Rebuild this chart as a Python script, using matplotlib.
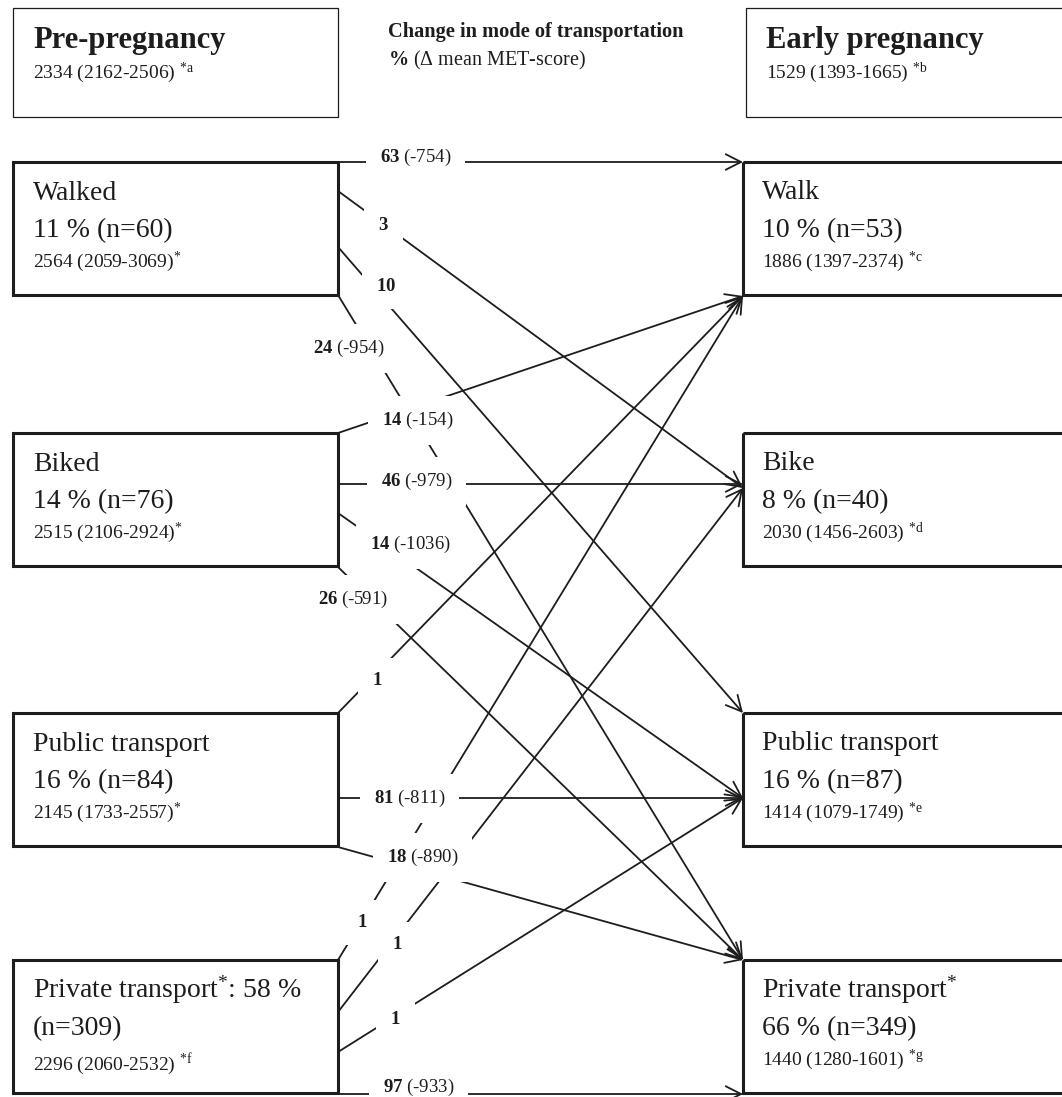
import matplotlib
matplotlib.use('Agg')
import matplotlib.pyplot as plt
from matplotlib.patches import Rectangle

plt.rcParams['font.family'] = 'Liberation Serif'
plt.rcParams['mathtext.fontset'] = 'custom'
plt.rcParams['mathtext.rm'] = 'Liberation Serif'
plt.rcParams['mathtext.it'] = 'Liberation Serif:italic'
plt.rcParams['mathtext.bf'] = 'Liberation Serif:bold'

INK = '#1e1c1d'

# ------------------------------------------------------------
# Data
# ------------------------------------------------------------
pre_title = 'Pre-pregnancy'
pre_total = '2334 (2162-2506)'
pre_total_sup = '*a'
early_title = 'Early pregnancy'
early_total = '1529 (1393-1665)'
early_total_sup = '*b'

pre_modes = ['Walked', 'Biked', 'Public transport', 'Private transport']
pre_pct = [11, 14, 16, 58]
pre_n = [60, 76, 84, 309]
pre_met = ['2564 (2059-3069)', '2515 (2106-2924)', '2145 (1733-2557)', '2296 (2060-2532)']
pre_sup = ['*', '*', '*', '*f']

early_modes = ['Walk', 'Bike', 'Public transport', 'Private transport']
early_pct = [10, 8, 16, 66]
early_n = [53, 40, 87, 349]
early_met = ['1886 (1397-2374)', '2030 (1456-2603)', '1414 (1079-1749)', '1440 (1280-1601)']
early_sup = ['*c', '*d', '*e', '*g']

# flows: pre mode -> early mode, % of group, change in mean MET-score
flow_from = [0, 0, 0, 0, 1, 1, 1, 1, 2, 2, 2, 3, 3, 3, 3]
flow_to = [0, 1, 2, 3, 0, 1, 2, 3, 0, 2, 3, 0, 1, 2, 3]
flow_pct = [63, 3, 10, 24, 14, 46, 14, 26, 1, 81, 18, 1, 1, 1, 97]
flow_met = [-754, None, None, -954, -154, -979, -1036, -591, None, -811, -890,
            None, None, None, -933]

# ------------------------------------------------------------
# Layout (pixels, y down)
# ------------------------------------------------------------
W, H = 1062, 1097
box_top = [162, 433, 713, 960]
box_h = 133
left_x0, left_x1 = 13, 338
right_x0, right_x1 = 743, 1095

src_dy = [0, 29, 85, 133, 0, 51, 80, 134, 0, 85, 134, 0, 52, 92, 134]
dst_dy = [0, 55, 0, 0, 134, 51, 85, 0, 134, 85, 0, 134, 55, 85, 134]
lab_x = [380, 378, 376, 313, 382, 381, 370, 318, 372, 374, 387, 357, 392, 390, 383]
lab_y = [162, 230, 291, 353, 425, 486, 549, 604, 685, 803, 862, 927, 949, 1024, 1092]


def sup(s):
    return r'$^{\mathrm{' + s + '}}$'


fig = plt.figure(figsize=(W / 100, H / 100), dpi=100)
ax = fig.add_axes([0, 0, 1, 1])
ax.set_xlim(0, W)
ax.set_ylim(H, 0)
ax.axis('off')

# header boxes
ax.add_patch(Rectangle((13, 8), 325, 109, fill=False, ec=INK, lw=0.9))
ax.add_patch(Rectangle((746, 8), 360, 109, fill=False, ec=INK, lw=0.9))
ax.text(33, 48, pre_title, fontsize=22, fontweight='bold', color=INK)
ax.text(33, 78, pre_total + ' ' + sup(pre_total_sup), fontsize=14, color=INK)
ax.text(766, 48, early_title, fontsize=22, fontweight='bold', color=INK)
ax.text(766, 78, early_total + ' ' + sup(early_total_sup), fontsize=14, color=INK)
ax.text(388, 37, 'Change in mode of transportation', fontsize=14.7,
        fontweight='bold', color=INK)
ax.text(388, 65, r'$\mathbf{\%}$ (Δ mean MET-score)', fontsize=14.5, color=INK)

# mode boxes
for i in range(4):
    top = box_top[i]
    ax.add_patch(Rectangle((left_x0, top), left_x1 - left_x0, box_h,
                           fill=False, ec=INK, lw=2.2, zorder=3))
    ax.add_patch(Rectangle((right_x0, top), right_x1 - right_x0, box_h,
                           fill=False, ec=INK, lw=2.2, zorder=3))

    if i == 3:
        ax.text(33, top + 38, pre_modes[i] + sup('*') + ': %d %%' % pre_pct[i],
                fontsize=20, color=INK)
        ax.text(33, top + 75, '(n=%d)' % pre_n[i], fontsize=20, color=INK)
        ax.text(33, top + 110, pre_met[i] + ' ' + sup(pre_sup[i]),
                fontsize=14, color=INK)
        ax.text(762, top + 38, early_modes[i] + sup('*'), fontsize=20, color=INK)
    else:
        ax.text(33, top + 38, pre_modes[i], fontsize=20, color=INK)
        ax.text(33, top + 75, '%d %% (n=%d)' % (pre_pct[i], pre_n[i]),
                fontsize=20, color=INK)
        ax.text(33, top + 105, pre_met[i] + sup(pre_sup[i]),
                fontsize=14, color=INK)
        ax.text(762, top + 37, early_modes[i], fontsize=20, color=INK)
    ax.text(762, top + 75, '%d %% (n=%d)' % (early_pct[i], early_n[i]),
            fontsize=20, color=INK)
    ax.text(762, top + 105, early_met[i] + ' ' + sup(early_sup[i]),
            fontsize=14, color=INK)

# flow arrows
for k in range(len(flow_pct)):
    sy = box_top[flow_from[k]] + src_dy[k]
    ty = box_top[flow_to[k]] + dst_dy[k]
    ax.annotate('', xy=(right_x0, ty), xytext=(left_x1, sy),
                arrowprops=dict(arrowstyle='->,head_length=0.55,head_width=0.28',
                                lw=1.3, color=INK, shrinkA=0, shrinkB=0,
                                mutation_scale=20),
                zorder=1)

# flow labels (white box hides the lines behind)
for k in range(len(flow_pct)):
    label = r'$\mathbf{%d}$' % flow_pct[k]
    if flow_met[k] is not None:
        label += ' (%d)' % flow_met[k]
    ax.text(lab_x[k], lab_y[k], label, fontsize=13.5, color=INK,
            ha='left', va='baseline', zorder=5,
            bbox=dict(boxstyle='square,pad=0.75', fc='white', ec='none'))

plt.savefig('out.png', dpi=100)
